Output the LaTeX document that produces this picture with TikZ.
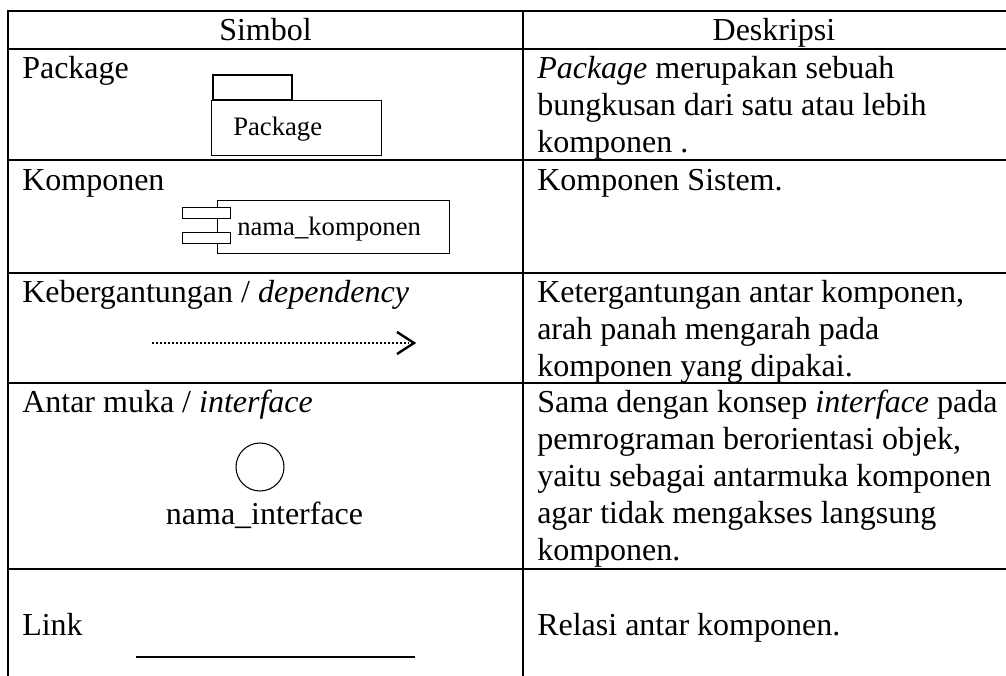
\documentclass[tikz,border=0pt]{standalone}
\usepackage{fontspec}
\setmainfont{Liberation Serif}
\begin{document}
\begin{tikzpicture}[x=0.75pt,y=-0.75pt,
  grid/.style={line width=1.1pt, line cap=rect},
  icon/.style={line width=0.8pt},
  big/.style={inner sep=0pt, anchor=base west, font=\fontsize{24}{27.6}\selectfont},
  bigc/.style={inner sep=0pt, anchor=base, font=\fontsize{24}{27.6}\selectfont},
  small/.style={inner sep=0pt, anchor=base west, font=\fontsize{20}{23}\selectfont},
  depline/.style={line width=1.5pt, dash pattern=on 1.5pt off 1.5pt, shorten >=4pt},
  dephead/.style={line width=1.8pt, line join=miter}]
\useasboundingbox (0,0) rectangle (1006,675);
% grid
\draw[grid] (1006,11) -- (8,11) -- (8,675);
\draw[grid] (523,11) -- (523,675);
\foreach \yy in {49,160,273,383,569} \draw[grid] (8,\yy) -- (1006,\yy);
% header
\node[bigc] (hSimbol) at (265.5,40) {Simbol};
\node[bigc] (hDesk) at (774,40) {Deskripsi};
% row 1
\node[big] (l1) at (22,78) {Package};
\draw[icon] (213,100) rectangle (292,75);
\node[draw, icon, minimum width=170*0.75pt, minimum height=55*0.75pt, anchor=north west, inner sep=0pt] (pkg) at (211,100) {};
\node[small] (pkgt) at (233,135) {Package};
\node[big] (d1a) at (537,78) {\textit{Package} merupakan sebuah};
\node[big] (d1b) at (537,115) {bungkusan dari satu atau lebih};
\node[big] (d1c) at (537,152) {komponen .};
% row 2
\node[big] (l2) at (22,190) {Komponen};
\node[draw, icon, minimum width=232*0.75pt, minimum height=53*0.75pt, anchor=north west, inner sep=0pt] (comp) at (217,200) {};
\node[draw, icon, fill=white, minimum width=48*0.75pt, minimum height=11*0.75pt, anchor=north west, inner sep=0pt] (compa) at (182,207) {};
\node[draw, icon, fill=white, minimum width=48*0.75pt, minimum height=11*0.75pt, anchor=north west, inner sep=0pt] (compb) at (182,232) {};
\node[small] (compt) at (237,235) {nama\_komponen};
\node[big] (d2a) at (537,190) {Komponen Sistem.};
% row 3
\node[big] (l3) at (22,302) {Kebergantungan / \textit{dependency}};
\coordinate (depA) at (152,343);
\coordinate (depB) at (414,343);
\draw[depline] (depA) -- (depB);
\draw[dephead] ([shift={(-17,-11)}]depB) -- (depB) -- ([shift={(-17,11)}]depB);
\node[big] (d3a) at (537,302) {Ketergantungan antar komponen,};
\node[big] (d3b) at (537,339) {arah panah mengarah pada};
\node[big] (d3c) at (537,376) {komponen yang dipakai.};
% row 4
\node[big] (l4) at (22,412) {Antar muka / \textit{interface}};
\node[draw, icon, circle, minimum size=48*0.75pt, inner sep=0pt] (intf) at (260,467) {};
\node[bigc] (intft) at (264.5,524) {nama\_interface};
\node[big] (d4a) at (537,412) {Sama dengan konsep \textit{interface} pada};
\node[big] (d4b) at (537,449) {pemrograman berorientasi objek,};
\node[big] (d4c) at (537,486) {yaitu sebagai antarmuka komponen};
\node[big] (d4d) at (537,523) {agar tidak mengakses langsung};
\node[big] (d4e) at (537,560) {komponen.};
% row 5
\node[big] (l5) at (22,635) {Link};
\coordinate (lnA) at (136,657);
\coordinate (lnB) at (415,657);
\draw[line width=1.1pt] (lnA) -- (lnB);
\node[big] (d5a) at (537,635) {Relasi antar komponen.};
\end{tikzpicture}
\end{document}
